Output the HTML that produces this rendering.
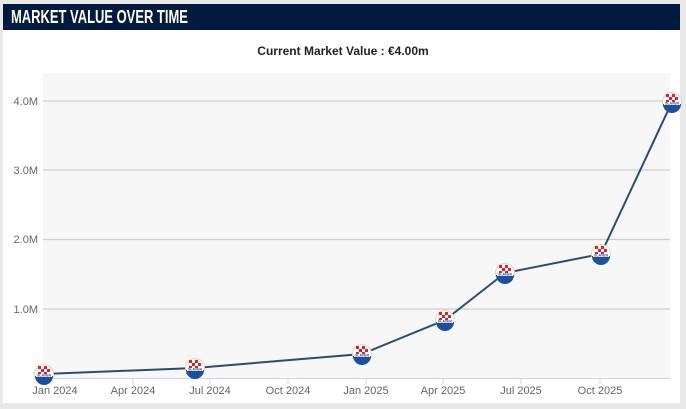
<!DOCTYPE html>
<html><head><meta charset="utf-8"><style>
body{margin:0;width:686px;height:409px;background:#e9e9e9;font-family:"Liberation Sans",sans-serif;overflow:hidden}
.panel{position:absolute;left:3px;top:4px;width:677px;height:399px;background:#fff}
.hdr{position:absolute;left:3px;top:4px;width:677px;height:26px;background:#001a3f}
.hdr span{position:absolute;left:8px;top:3px;color:#fff;font-family:"Liberation Sans Narrow","Liberation Sans",sans-serif;font-weight:bold;font-size:18px;transform:scaleX(0.72);transform-origin:left;white-space:nowrap}
</style></head><body>
<div class="panel"></div>
<div class="hdr"><span>MARKET VALUE OVER TIME</span></div>
<svg width="686" height="409" style="position:absolute;left:0;top:0">
<defs>
<g id="ic">
<circle cx="0" cy="0" r="10" fill="#e8d3ad"/>
<circle cx="0" cy="0" r="9" fill="#fff"/>
<path d="M-9,2 A9,9 0 0 0 9,2 Z" fill="#1f4f9c"/>
<rect x="-6" y="-8" width="3" height="3" fill="#e0202a"/><rect x="0" y="-8" width="3" height="3" fill="#e0202a"/>
<rect x="-3" y="-5" width="3" height="3" fill="#e0202a"/><rect x="3" y="-5" width="3" height="3" fill="#e0202a"/>
<rect x="-6" y="-2" width="3" height="2" fill="#e0202a"/><rect x="0" y="-2" width="3" height="2" fill="#e0202a"/>
<rect x="-8" y="0" width="16" height="3" fill="#fff"/>
<text x="0" y="2.6" font-size="3.5" fill="#1f4f9c" text-anchor="middle" font-weight="bold">SLAVEN</text>
</g>
</defs>
<text x="343" y="55" font-size="12" font-weight="bold" fill="#222" text-anchor="middle">Current Market Value : €4.00m</text>
<rect x="43" y="73" width="627" height="305" fill="#f7f7f7"/>
<g stroke="#cfcfcf" stroke-width="1.2">
<line x1="43" y1="101" x2="670" y2="101"/><line x1="43" y1="170" x2="670" y2="170"/>
<line x1="43" y1="239.5" x2="670" y2="239.5"/><line x1="43" y1="309" x2="670" y2="309"/>
</g>
<line x1="43" y1="378.5" x2="670" y2="378.5" stroke="#ccd6eb"/>
<g stroke="#ccd6eb"><line x1="44" y1="378" x2="44" y2="384"/><line x1="133" y1="378" x2="133" y2="384"/><line x1="210" y1="378" x2="210" y2="384"/><line x1="288" y1="378" x2="288" y2="384"/><line x1="366" y1="378" x2="366" y2="384"/><line x1="443" y1="378" x2="443" y2="384"/><line x1="521" y1="378" x2="521" y2="384"/><line x1="600" y1="378" x2="600" y2="384"/></g>
<g font-size="11" fill="#666" text-anchor="end">
<text x="38" y="105">4.0M</text><text x="38" y="174">3.0M</text><text x="38" y="243">2.0M</text><text x="38" y="313">1.0M</text>
</g>
<g font-size="11" fill="#666" text-anchor="middle">
<text x="55" y="394">Jan 2024</text><text x="133" y="394">Apr 2024</text><text x="210" y="394">Jul 2024</text><text x="288" y="394">Oct 2024</text><text x="366" y="394">Jan 2025</text><text x="443" y="394">Apr 2025</text><text x="521" y="394">Jul 2025</text><text x="600" y="394">Oct 2025</text>
</g>
<polyline points="44,374 195,368 362,354 445,320 505,273 601,254 672,102" fill="none" stroke="#2d4a73" stroke-width="2"/>
<use href="#ic" x="44" y="374"/><use href="#ic" x="195" y="368"/><use href="#ic" x="362" y="354"/><use href="#ic" x="445" y="320"/><use href="#ic" x="505" y="273"/><use href="#ic" x="601" y="254"/><use href="#ic" x="672" y="102"/>
</svg>
</body></html>
